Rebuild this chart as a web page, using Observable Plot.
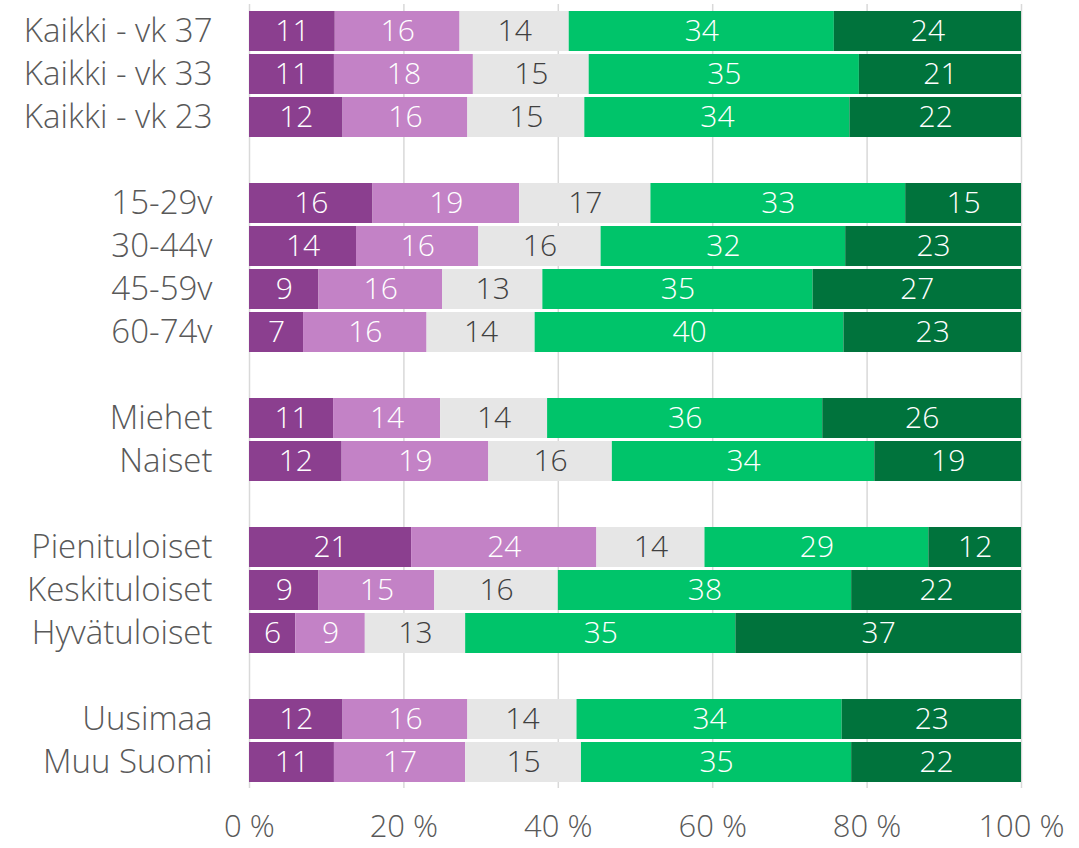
<!DOCTYPE html>
<html>
<head>
<meta charset="utf-8">
<script src="https://cdn.jsdelivr.net/npm/d3@7"></script>
<script src="https://cdn.jsdelivr.net/npm/@observablehq/plot@0.6"></script>
<style>
  html, body { margin: 0; padding: 0; background: #ffffff; }
  #chart { width: 1079px; height: 848px; }
</style>
</head>
<body>
<div id="chart"></div>
<script>
const categories = [
  "Kaikki - vk 37", "Kaikki - vk 33", "Kaikki - vk 23",
  "15-29v", "30-44v", "45-59v", "60-74v",
  "Miehet", "Naiset",
  "Pienituloiset", "Keskituloiset", "Hyvätuloiset",
  "Uusimaa", "Muu Suomi"
];
// Row order top to bottom, with blank spacer rows between groups
const rowOrder = [
  "Kaikki - vk 37", "Kaikki - vk 33", "Kaikki - vk 23", "gap1",
  "15-29v", "30-44v", "45-59v", "60-74v", "gap2",
  "Miehet", "Naiset", "gap3",
  "Pienituloiset", "Keskituloiset", "Hyvätuloiset", "gap4",
  "Uusimaa", "Muu Suomi"
];
const series = ["s1", "s2", "s3", "s4", "s5"];
const seriesColors = ["#8b3f8f", "#c382c6", "#e6e6e6", "#00c46a", "#00733c"];

const s1 = [11, 11, 12, 16, 14, 9, 7, 11, 12, 21, 9, 6, 12, 11];
const s2 = [16, 18, 16, 19, 16, 16, 16, 14, 19, 24, 15, 9, 16, 17];
const s3 = [14, 15, 15, 17, 16, 13, 14, 14, 16, 14, 16, 13, 14, 15];
const s4 = [34, 35, 34, 33, 32, 35, 40, 36, 34, 29, 38, 35, 34, 35];
const s5 = [24, 21, 22, 15, 23, 27, 23, 26, 19, 12, 22, 37, 23, 22];

const xTicks = [0, 0.2, 0.4, 0.6, 0.8, 1];

const seriesValues = [s1, s2, s3, s4, s5];
const rows = categories.flatMap((c, i) =>
  series.map((s, j) => ({cat: c, series: s, value: seriesValues[j][i]}))
);

const stackOpts = {x: "value", y: "cat", z: "series", offset: "normalize"};

const chart = Plot.plot({
  width: 1079,
  height: 848,
  marginLeft: 249,
  marginRight: 58,
  marginTop: 4,
  marginBottom: 60,
  style: {fontFamily: "'Open Sans', sans-serif", fontSize: "31px", fontWeight: 300, color: "#595959", background: "#ffffff"},
  x: {domain: [0, 1], axis: null},
  y: {domain: rowOrder, padding: 0.08, axis: null},
  color: {domain: series, range: seriesColors},
  marks: [
    Plot.ruleX(xTicks, {stroke: "#d9d9d9", strokeWidth: 1.5}),
    Plot.barX(rows, Plot.stackX({...stackOpts, fill: "series"})),
    Plot.text(rows, Plot.stackX({
      ...stackOpts,
      text: d => d.series === "s3" ? String(d.value) : null,
      fill: "#404040", fontSize: 30, fontWeight: 300
    })),
    Plot.text(rows, Plot.stackX({
      ...stackOpts,
      text: d => d.series !== "s3" ? String(d.value) : null,
      fill: "#ffffff", fontSize: 30, fontWeight: 300
    })),
    Plot.axisY({
      tickSize: 0, tickPadding: 37, fontSize: 33, fontWeight: 300, fill: "#595959",
      tickFormat: d => d.startsWith("gap") ? "" : d, label: null
    }),
    Plot.axisX(xTicks, {
      tickSize: 0, tickPadding: 26, fontSize: 31, fontWeight: 300, fill: "#595959",
      tickFormat: d => Math.round(d * 100) + " %", label: null
    })
  ]
});
document.getElementById("chart").appendChild(chart);
</script>
</body>
</html>
